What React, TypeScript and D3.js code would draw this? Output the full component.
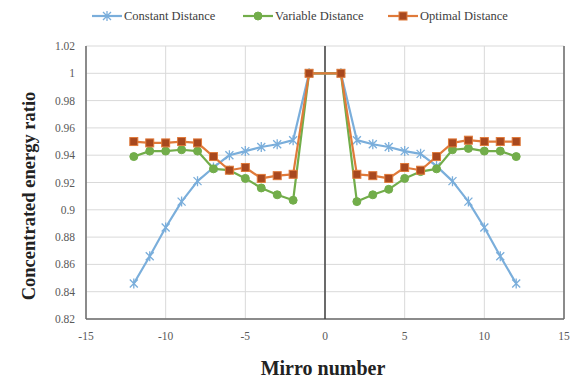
import React from "react";
import * as d3 from "d3";

const xs = [-12, -11, -10, -9, -8, -7, -6, -5, -4, -3, -2, -1, 1, 2, 3, 4, 5, 6, 7, 8, 9, 10, 11, 12];
const constantDistance = [0.846, 0.866, 0.887, 0.906, 0.921, 0.931, 0.94, 0.943, 0.946, 0.948, 0.951, 1.0, 1.0, 0.951, 0.948, 0.946, 0.943, 0.941, 0.932, 0.921, 0.906, 0.887, 0.866, 0.846];
const variableDistance = [0.939, 0.943, 0.943, 0.944, 0.943, 0.93, 0.929, 0.923, 0.916, 0.911, 0.907, 1.0, 1.0, 0.906, 0.911, 0.915, 0.923, 0.928, 0.93, 0.944, 0.945, 0.943, 0.943, 0.939];
const optimalDistance = [0.95, 0.949, 0.949, 0.95, 0.949, 0.939, 0.929, 0.931, 0.923, 0.925, 0.926, 1.0, 1.0, 0.926, 0.925, 0.923, 0.931, 0.929, 0.939, 0.949, 0.951, 0.95, 0.95, 0.95];
const xTicks = [-15, -10, -5, 0, 5, 10, 15];
const yTicks = [0.82, 0.84, 0.86, 0.88, 0.9, 0.92, 0.94, 0.96, 0.98, 1, 1.02];
const seriesNames = ["Constant Distance", "Variable Distance", "Optimal Distance"];

const BLUE = "#7aaedb";
const GREEN = "#72ad4a";
const ORANGE = "#e07a3a";
const ORANGE_FILL = "#a8481e";
const FONT = "'Liberation Serif', 'DejaVu Serif', serif";
const fs = { fontFamily: FONT };

function Marker({ kind, x, y }: { kind: number; x: number; y: number }) {
  if (kind === 0) {
    const s = 4;
    return (
      <path
        d={`M${x - s},${y - s}L${x + s},${y + s}M${x - s},${y + s}L${x + s},${y - s}M${x},${y - s - 1}L${x},${y + s + 1}`}
        stroke={BLUE}
        strokeWidth={1.3}
        fill="none"
      />
    );
  }
  if (kind === 1) {
    return <circle cx={x} cy={y} r={4} fill={GREEN} stroke={GREEN} strokeWidth={1} />;
  }
  return <rect x={x - 4} y={y - 4} width={8} height={8} fill={ORANGE_FILL} stroke={ORANGE} strokeWidth={1} />;
}

export default function App() {
  const W = 576, H = 378;
  const left = 86, right = 564, top = 46, bottom = 319;
  const x = d3.scaleLinear().domain([-15, 15]).range([left, right]);
  const y = d3.scaleLinear().domain([0.82, 1.02]).range([bottom, top]);
  const all = [constantDistance, variableDistance, optimalDistance];
  const colors = [BLUE, GREEN, ORANGE];
  const line = d3.line<number>().x((_, i) => x(xs[i])).y((d) => y(d));
  const legendX = [92, 243, 388];

  return (
    <svg width={W} height={H} style={{ position: "absolute", left: 0, top: 0, background: "#fff" }}>
      {yTicks.map((t) => (
        <line key={"gy" + t} x1={left} x2={right} y1={y(t)} y2={y(t)} stroke="#d9d9d9" strokeWidth={1} />
      ))}
      {xTicks.map((t) => (
        <line key={"gx" + t} x1={x(t)} x2={x(t)} y1={top} y2={bottom} stroke="#d9d9d9" strokeWidth={1} />
      ))}
      <line x1={left} x2={left} y1={top} y2={bottom} stroke="#6b6b6b" strokeWidth={1.5} />
      <line x1={right} x2={right} y1={top} y2={bottom} stroke="#6b6b6b" strokeWidth={1.5} />
      <line x1={left} x2={right} y1={bottom} y2={bottom} stroke="#6b6b6b" strokeWidth={1.5} />
      <line x1={x(0)} x2={x(0)} y1={top} y2={bottom} stroke="#404040" strokeWidth={1.5} />

      {yTicks.map((t) => (
        <text key={"ly" + t} x={75} y={y(t) + 4} textAnchor="end" fontSize={11.5} fill="#595959" style={fs}>
          {d3.format("")(+t.toFixed(2))}
        </text>
      ))}
      {xTicks.map((t) => (
        <text key={"lx" + t} x={x(t)} y={340} textAnchor="middle" fontSize={11.5} fill="#595959" style={fs}>
          {t}
        </text>
      ))}

      {all.map((vals, si) => (
        <g key={"s" + si}>
          <path d={line(vals) || ""} fill="none" stroke={colors[si]} strokeWidth={2.2} strokeLinejoin="round" />
          {vals.map((v, i) => (
            <Marker key={i} kind={si} x={x(xs[i])} y={y(v)} />
          ))}
        </g>
      ))}

      {seriesNames.map((n, i) => (
        <g key={"lg" + i}>
          <line x1={legendX[i]} x2={legendX[i] + 30} y1={16} y2={16} stroke={colors[i]} strokeWidth={2.2} />
          <Marker kind={i} x={legendX[i] + 15} y={16} />
          <text x={legendX[i] + 32} y={20} fontSize={12.5} fill="#404040" style={fs}>{n}</text>
        </g>
      ))}

      <text x={323} y={375} textAnchor="middle" fontSize={20} fontWeight="bold" fill="#222" style={fs}>Mirro number</text>
      <text transform={`translate(35,196) rotate(-90)`} textAnchor="middle" fontSize={18.5} fontWeight="bold" fill="#222" style={fs}>
        Concentrated energy ratio
      </text>
    </svg>
  );
}
